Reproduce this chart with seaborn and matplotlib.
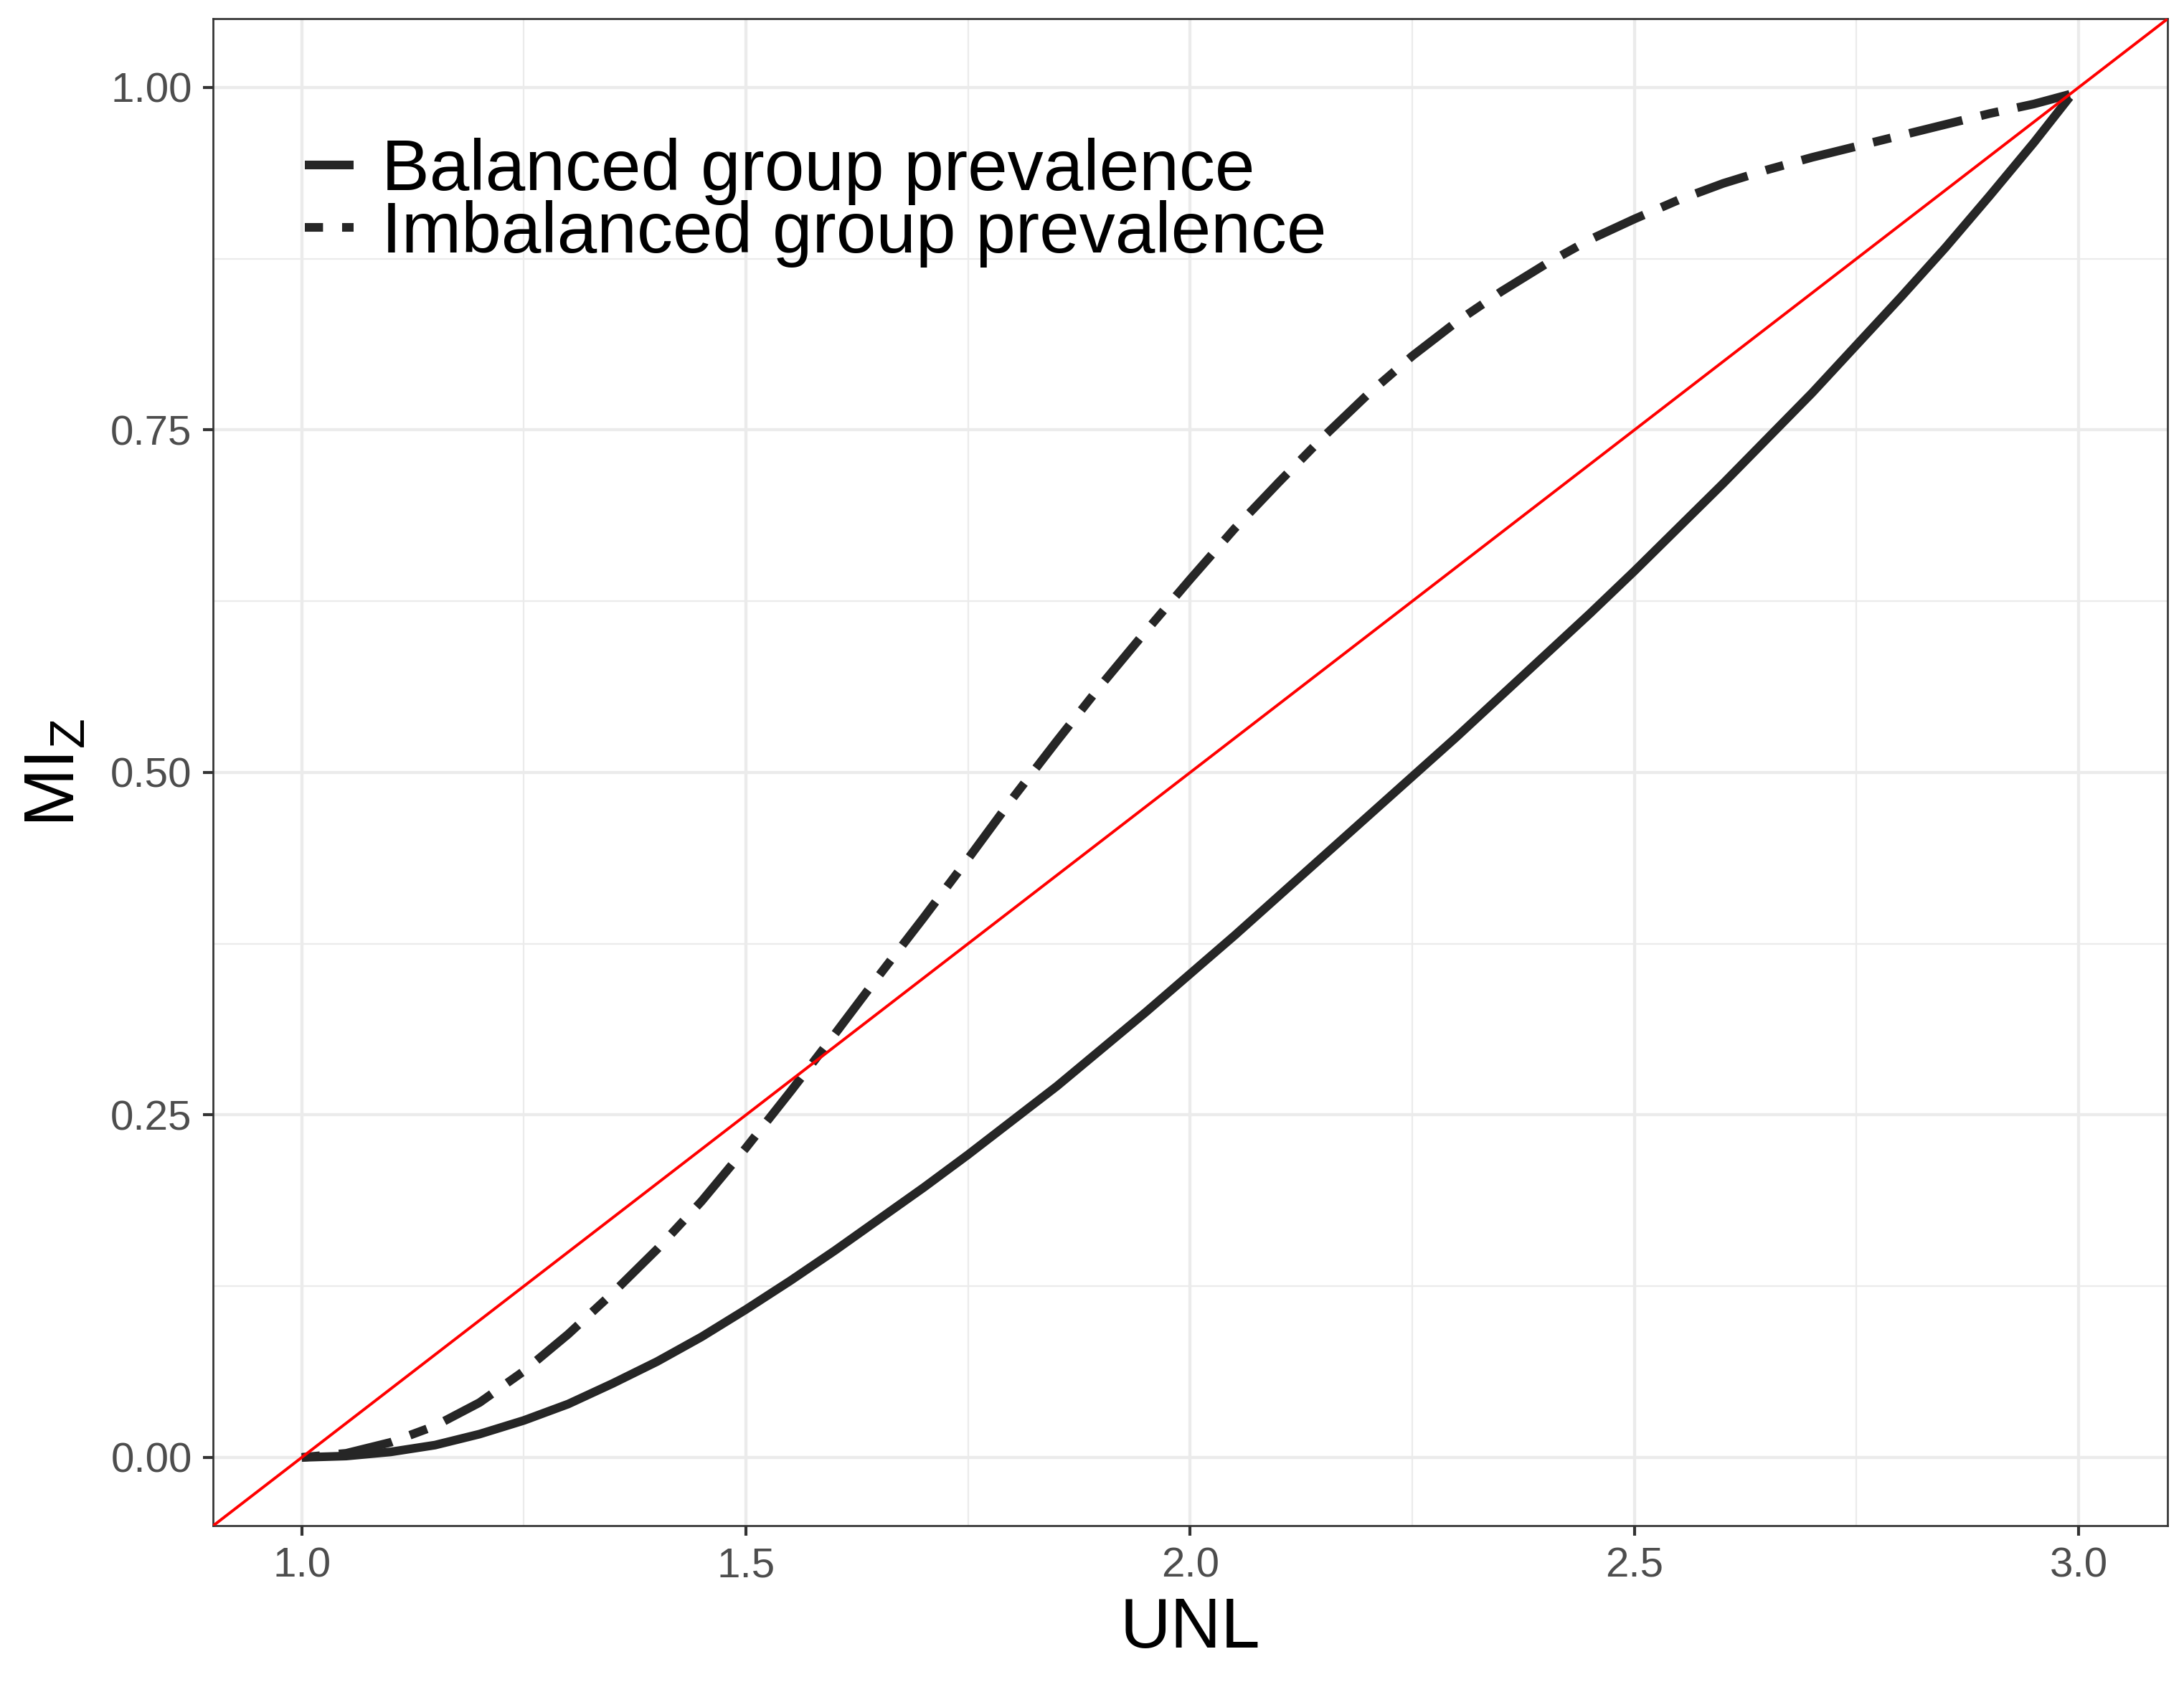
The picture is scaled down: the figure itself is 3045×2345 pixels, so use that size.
import numpy as np
import pandas as pd
import matplotlib
matplotlib.use("Agg")
import matplotlib.pyplot as plt
import seaborn as sns

# ---- data ----
unl = [1.00, 1.05, 1.10, 1.15, 1.20, 1.25, 1.30, 1.35, 1.40, 1.45,
       1.50, 1.55, 1.60, 1.65, 1.70, 1.75, 1.80, 1.85, 1.90, 1.95,
       2.00, 2.05, 2.10, 2.15, 2.20, 2.25, 2.30, 2.35, 2.40, 2.45,
       2.50, 2.55, 2.60, 2.65, 2.70, 2.75, 2.80, 2.85, 2.90, 2.95, 2.99]
balanced = [0.000, 0.001, 0.004, 0.009, 0.017, 0.027, 0.039, 0.054, 0.070, 0.088,
            0.108, 0.129, 0.151, 0.174, 0.197, 0.221, 0.246, 0.271, 0.298, 0.325,
            0.353, 0.381, 0.410, 0.439, 0.468, 0.497, 0.526, 0.556, 0.586, 0.616,
            0.647, 0.679, 0.711, 0.744, 0.777, 0.812, 0.847, 0.883, 0.921, 0.960, 0.993]
imbalanced = [0.000, 0.003, 0.011, 0.023, 0.040, 0.063, 0.090, 0.120, 0.152, 0.187,
              0.226, 0.267, 0.309, 0.352, 0.394, 0.437, 0.481, 0.523, 0.564, 0.603,
              0.641, 0.678, 0.712, 0.745, 0.776, 0.804, 0.829, 0.851, 0.871, 0.889,
              0.904, 0.918, 0.930, 0.940, 0.949, 0.957, 0.965, 0.973, 0.981, 0.988, 0.995]
group_labels = ["Balanced group prevalence", "Imbalanced group prevalence"]

x_ticks = [1.0, 1.5, 2.0, 2.5, 3.0]
x_tick_labels = ["1.0", "1.5", "2.0", "2.5", "3.0"]
x_minor = [1.25, 1.75, 2.25, 2.75]
y_ticks = [0.0, 0.25, 0.50, 0.75, 1.00]
y_tick_labels = ["0.00", "0.25", "0.50", "0.75", "1.00"]
y_minor = [0.125, 0.375, 0.625, 0.875]
x_label = "UNL"
y_label = r"$\mathregular{MI_Z}$"

df = pd.DataFrame({
    "UNL": unl + unl,
    "MI": balanced + imbalanced,
    "group": [group_labels[0]] * len(unl) + [group_labels[1]] * len(unl),
})

# ---- style ----
sns.set_theme(style="white")
plt.rcParams["font.family"] = ["Liberation Sans", "DejaVu Sans"]
plt.rcParams["mathtext.fontset"] = "custom"
plt.rcParams["mathtext.rm"] = "Liberation Sans"
plt.rcParams["mathtext.it"] = "Liberation Sans:italic"

W, H, DPI = 3045, 2345, 300
fig = plt.figure(figsize=(W / DPI, H / DPI), dpi=DPI)
fig.patch.set_facecolor("white")
ax = fig.add_axes([0.0975, 0.0928, 0.8949, 0.8959])
ax.set_facecolor("white")

LW = 2.9
dash_pat = (2.1, 2.2, 6.3, 2.2)
sns.lineplot(data=df, x="UNL", y="MI", style="group", style_order=group_labels,
             dashes={group_labels[0]: "", group_labels[1]: dash_pat},
             color="#262626", linewidth=LW, estimator=None, sort=False, ax=ax,
             zorder=3)
for ln in ax.lines:
    ln.set_dash_capstyle("butt")
    ln.set_solid_capstyle("butt")
    ln.set_solid_joinstyle("round")
    ln.set_dash_joinstyle("round")

# reference line y = (x - 1) / 2
ax.axline((1.0, 0.0), slope=0.5, color="#FF0000", linewidth=0.95, zorder=4)

ax.set_xlim(0.9, 3.1)
ax.set_ylim(-0.05, 1.05)
ax.set_xticks(x_ticks, x_tick_labels)
ax.set_yticks(y_ticks, y_tick_labels)
ax.set_xticks(x_minor, minor=True)
ax.set_yticks(y_minor, minor=True)

ax.grid(which="major", color="#EBEBEB", linewidth=1.05, zorder=0)
ax.grid(which="minor", color="#EBEBEB", linewidth=0.55, zorder=0)
ax.set_axisbelow(True)

for sp in ax.spines.values():
    sp.set_visible(True)
    sp.set_color("#333333")
    sp.set_linewidth(0.65)

ax.tick_params(which="major", length=3.4, width=1.0, color="#333333",
               labelsize=14, labelcolor="#4D4D4D", pad=3.6,
               bottom=True, left=True)
ax.tick_params(which="minor", length=0, bottom=False, left=False)

ax.set_xlabel(x_label, fontsize=23.5, color="black", labelpad=3.6)
ax.set_ylabel(y_label, fontsize=23.5, color="black", labelpad=7.3)

# legend
leg = ax.get_legend()
handles = list(leg.legend_handles)
labels = [t.get_text() for t in leg.texts]
leg.remove()
pairs = [(h, l) for h, l in zip(handles, labels) if l in group_labels]
handles = [p[0] for p in pairs]
labels = [p[1] for p in pairs]
for h in handles:
    h.set_linewidth(LW)
    h.set_color("#262626")
    h.set_dash_capstyle("butt")
    h.set_solid_capstyle("butt")
new_leg = ax.legend(handles, labels, loc="upper left", bbox_to_anchor=(0.047, 0.921),
                    frameon=False, fontsize=24, handlelength=0.68, handletextpad=0.39,
                    labelspacing=-0.07, borderaxespad=0, borderpad=0)
for t in new_leg.get_texts():
    t.set_color("black")

fig.savefig("out.png", dpi=DPI, facecolor="white")
